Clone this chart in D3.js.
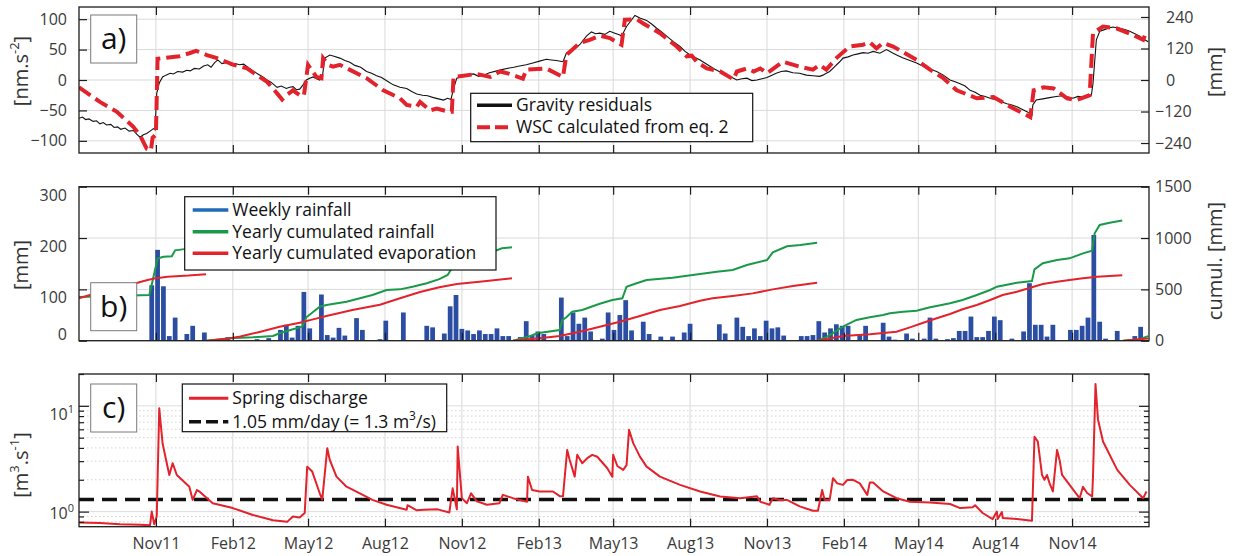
<!DOCTYPE html>
<html><head><meta charset="utf-8">
<script src="https://cdn.jsdelivr.net/npm/d3@7"></script>
<style>
body{margin:0;background:#fff}
svg{display:block}
text{font-family:"Open Sans",sans-serif}
</style></head>
<body>
<svg id="chart" width="1234" height="556"></svg>
<script>
// ---------------- DATA ----------------
const tickDates = ["2011-11-01","2012-02-01","2012-05-01","2012-08-01","2012-11-01","2013-02-01","2013-05-01","2013-08-01","2013-11-01","2014-02-01","2014-05-01","2014-08-01","2014-11-01"];
const tickLabels = ["Nov11","Feb12","May12","Aug12","Nov12","Feb13","May13","Aug13","Nov13","Feb14","May14","Aug14","Nov14"];
const gravTicks = [-100,-50,0,50,100];
const wscTicks = [-240,-120,0,120,240];
const rainTicks = [0,100,200,300];
const cumulTicks = [0,500,1000,1500];
const qMajorTicks = [1,10];
const qMinorTicks = [0.8,0.9,2,3,4,5,6,7,8,9,20];
const qThreshold = 1.3;

const gravity = [["2011-08-01",-63],["2011-08-05",-61],["2011-08-09",-65],["2011-08-13",-64],["2011-08-18",-68],["2011-08-22",-67],["2011-08-26",-72],["2011-08-30",-70],["2011-09-03",-74],["2011-09-08",-73],["2011-09-12",-78],["2011-09-16",-77],["2011-09-20",-81],["2011-09-25",-79],["2011-09-30",-84],["2011-10-05",-83],["2011-10-09",-89],["2011-10-13",-94],["2011-10-17",-90],["2011-10-21",-88],["2011-10-25",-84],["2011-10-29",-80],["2011-10-31",-82],["2011-11-01",-50],["2011-11-02",-22],["2011-11-05",-5],["2011-11-09",5],["2011-11-13",8],["2011-11-18",11],["2011-11-22",10],["2011-11-27",14],["2011-12-03",13],["2011-12-08",16],["2011-12-12",15],["2011-12-17",19],["2011-12-23",18],["2011-12-28",23],["2012-01-02",25],["2012-01-06",21],["2012-01-10",28],["2012-01-14",33],["2012-01-19",27],["2012-01-25",29],["2012-01-30",24],["2012-02-04",27],["2012-02-09",25],["2012-02-14",26],["2012-02-20",20],["2012-02-26",14],["2012-03-03",9],["2012-03-08",5],["2012-03-13",0],["2012-03-18",-4],["2012-03-25",-12],["2012-03-30",-10],["2012-04-05",-14],["2012-04-09",-12],["2012-04-13",-11],["2012-04-17",-16],["2012-04-21",-15],["2012-04-25",-8],["2012-04-29",0],["2012-05-03",3],["2012-05-07",5],["2012-05-11",2],["2012-05-15",0],["2012-05-18",4],["2012-05-21",36],["2012-05-27",41],["2012-06-01",39],["2012-06-08",36],["2012-06-14",32],["2012-06-20",29],["2012-06-26",24],["2012-07-03",21],["2012-07-10",14],["2012-07-16",11],["2012-07-22",7],["2012-07-28",4],["2012-08-04",-2],["2012-08-11",-8],["2012-08-19",-12],["2012-08-27",-14],["2012-09-02",-19],["2012-09-08",-23],["2012-09-15",-25],["2012-09-21",-26],["2012-09-28",-29],["2012-10-04",-31],["2012-10-10",-33],["2012-10-15",-30],["2012-10-19",-32],["2012-10-22",-14],["2012-10-26",3],["2012-11-03",7],["2012-11-09",9],["2012-11-15",10],["2012-11-21",6],["2012-11-27",8],["2012-12-04",12],["2012-12-13",15],["2012-12-19",17],["2012-12-25",19],["2013-01-02",21],["2013-01-09",23],["2013-01-17",25],["2013-01-25",28],["2013-02-02",31],["2013-02-10",34],["2013-02-16",33],["2013-02-22",32],["2013-03-02",30],["2013-03-06",44],["2013-03-14",50],["2013-03-22",58],["2013-03-30",72],["2013-04-05",79],["2013-04-10",76],["2013-04-15",77],["2013-04-21",75],["2013-04-27",80],["2013-05-03",77],["2013-05-09",74],["2013-05-11",72],["2013-05-17",88],["2013-05-22",97],["2013-05-27",106],["2013-06-02",102],["2013-06-10",98],["2013-06-16",92],["2013-06-22",85],["2013-06-28",79],["2013-07-04",72],["2013-07-12",63],["2013-07-20",55],["2013-07-26",47],["2013-08-01",41],["2013-08-07",37],["2013-08-13",33],["2013-08-21",26],["2013-08-29",19],["2013-09-06",13],["2013-09-14",8],["2013-09-20",4],["2013-09-26",0],["2013-10-02",2],["2013-10-08",3],["2013-10-14",-1],["2013-10-20",0],["2013-10-26",2],["2013-11-01",4],["2013-11-07",8],["2013-11-12",11],["2013-11-18",14],["2013-11-24",15],["2013-12-02",12],["2013-12-10",11],["2013-12-18",8],["2013-12-26",7],["2014-01-03",6],["2014-01-07",8],["2014-01-11",11],["2014-01-15",14],["2014-01-21",22],["2014-01-27",30],["2014-01-31",36],["2014-02-06",38],["2014-02-12",41],["2014-02-18",43],["2014-02-24",45],["2014-03-02",44],["2014-03-08",47],["2014-03-16",44],["2014-03-24",50],["2014-04-01",44],["2014-04-07",40],["2014-04-13",36],["2014-04-21",32],["2014-04-29",28],["2014-05-05",24],["2014-05-11",19],["2014-05-17",17],["2014-05-23",14],["2014-05-31",8],["2014-06-08",0],["2014-06-14",-3],["2014-06-20",-6],["2014-06-26",-10],["2014-07-02",-17],["2014-07-08",-20],["2014-07-14",-25],["2014-07-20",-27],["2014-07-26",-30],["2014-08-03",-33],["2014-08-09",-36],["2014-08-15",-39],["2014-08-21",-41],["2014-08-27",-44],["2014-09-02",-48],["2014-09-08",-52],["2014-09-14",-58],["2014-09-15",-41],["2014-09-19",-33],["2014-09-27",-31],["2014-10-05",-29],["2014-10-13",-27],["2014-10-21",-26],["2014-10-27",-28],["2014-11-02",-30],["2014-11-08",-27],["2014-11-14",-28],["2014-11-20",-25],["2014-11-24",-25],["2014-11-26",-6],["2014-11-30",66],["2014-12-04",80],["2014-12-08",82],["2014-12-12",84],["2014-12-16",86],["2014-12-20",87],["2014-12-24",86],["2014-12-28",85],["2015-01-03",83],["2015-01-09",80],["2015-01-15",76],["2015-01-21",72],["2015-01-26",67],["2015-01-31",63]];

const wsc = [["2011-08-01",-12],["2011-08-26",-36],["2011-09-15",-52],["2011-10-05",-77],["2011-10-13",-91],["2011-10-21",-113],["2011-10-26",-116],["2011-10-28",-95],["2011-11-01",-90],["2011-11-03",35],["2011-11-09",36],["2011-11-29",39],["2011-12-11",44],["2011-12-19",48],["2012-01-01",41],["2012-01-13",36],["2012-02-02",25],["2012-02-18",19],["2012-03-01",8],["2012-03-13",-3],["2012-03-25",-22],["2012-03-31",-32],["2012-04-05",-25],["2012-04-13",-17],["2012-04-21",-25],["2012-04-26",-26],["2012-05-01",25],["2012-05-11",5],["2012-05-17",3],["2012-05-19",36],["2012-05-25",25],["2012-05-31",22],["2012-06-08",25],["2012-07-10",3],["2012-07-30",-17],["2012-08-19",-30],["2012-08-27",-41],["2012-09-08",-44],["2012-09-12",-36],["2012-09-24",-50],["2012-10-02",-47],["2012-10-16",-52],["2012-10-20",-52],["2012-10-22",5],["2012-11-03",7],["2012-11-19",10],["2012-12-05",5],["2012-12-17",14],["2012-12-28",10],["2013-01-13",2],["2013-01-17",17],["2013-02-10",19],["2013-03-02",5],["2013-03-06",41],["2013-03-22",61],["2013-04-03",66],["2013-04-15",73],["2013-04-27",69],["2013-05-11",58],["2013-05-15",99],["2013-05-29",100],["2013-06-06",93],["2013-06-26",77],["2013-07-16",55],["2013-07-28",39],["2013-08-03",40],["2013-08-09",30],["2013-08-21",19],["2013-09-06",14],["2013-09-22",1],["2013-09-26",14],["2013-10-08",19],["2013-10-16",14],["2013-10-24",19],["2013-11-01",11],["2013-11-20",30],["2013-12-10",22],["2013-12-26",17],["2014-01-03",25],["2014-01-11",17],["2014-01-23",36],["2014-02-08",55],["2014-02-24",58],["2014-03-04",62],["2014-03-12",52],["2014-03-20",61],["2014-04-01",55],["2014-04-29",33],["2014-05-15",17],["2014-05-31",3],["2014-06-16",-17],["2014-07-10",-30],["2014-07-30",-28],["2014-08-19",-44],["2014-09-12",-61],["2014-09-16",-17],["2014-09-28",-12],["2014-10-10",-14],["2014-10-26",-30],["2014-11-06",-33],["2014-11-22",-25],["2014-11-26",77],["2014-12-08",88],["2014-12-24",85],["2015-01-13",74],["2015-01-25",66],["2015-01-29",80]];

const rainFirstWeek = "2011-10-27";
const weeklyRain = [108,177,106,9,45,0,13,29,0,16,0,0,0,7,0,0,0,0,3,0,5,0,21,31,6,29,95,24,0,90,11,6,25,10,0,44,21,0,0,3,39,0,0,55,0,0,0,29,26,0,14,67,89,23,20,13,20,13,13,24,9,9,0,7,38,11,18,13,0,0,84,9,55,33,45,18,0,4,55,21,50,79,20,0,37,13,0,8,0,8,0,16,33,0,0,0,0,32,14,0,45,27,9,24,9,39,24,26,10,0,0,9,9,11,38,16,24,32,29,29,0,11,29,0,0,35,8,2,0,14,4,0,4,45,4,0,3,5,19,19,47,7,7,19,47,40,0,4,0,18,112,31,31,8,31,0,0,21,21,29,45,206,37,4,0,19,0,0,9,27];

const cumRain2011 = [["2011-08-01",425],["2011-10-24",444],["2011-10-27",544],["2011-11-03",800],["2011-11-10",818],["2011-11-20",822],["2011-11-24",880],["2011-12-05",892],["2011-12-31",905]];
const cumRain2012 = [["2012-01-01",0],["2012-01-28",23],["2012-02-25",33],["2012-03-20",46],["2012-03-28",72],["2012-04-13",111],["2012-04-24",136],["2012-04-29",228],["2012-05-15",331],["2012-05-23",348],["2012-06-16",380],["2012-07-02",413],["2012-07-17",445],["2012-08-03",494],["2012-08-19",500],["2012-09-03",526],["2012-09-20",559],["2012-10-05",600],["2012-10-15",640],["2012-10-21",720],["2012-10-29",790],["2012-11-10",825],["2012-12-08",867],["2012-12-19",900],["2012-12-31",910]];
const cumRain2013 = [["2013-01-01",0],["2013-01-20",40],["2013-01-30",72],["2013-02-26",104],["2013-03-01",200],["2013-03-06",228],["2013-03-13",283],["2013-03-25",299],["2013-04-14",357],["2013-04-30",396],["2013-05-12",413],["2013-05-17",526],["2013-05-29",559],["2013-06-10",591],["2013-07-11",614],["2013-08-04",640],["2013-09-02",672],["2013-09-21",689],["2013-10-08",737],["2013-11-01",786],["2013-11-08",860],["2013-11-25",920],["2013-12-11",932],["2013-12-31",955]];
const cumRain2014 = [["2014-01-01",0],["2014-01-12",40],["2014-01-22",90],["2014-02-01",143],["2014-02-16",202],["2014-03-04",228],["2014-03-20",250],["2014-03-28",267],["2014-04-13",283],["2014-04-29",292],["2014-05-15",325],["2014-05-23",338],["2014-06-08",364],["2014-06-23",396],["2014-07-10",445],["2014-07-26",494],["2014-08-03",526],["2014-08-27",565],["2014-09-14",581],["2014-09-17",695],["2014-09-27",754],["2014-10-14",786],["2014-10-29",802],["2014-11-14",851],["2014-11-25",877],["2014-11-28",1046],["2014-12-04",1127],["2014-12-16",1149],["2014-12-31",1170]];
const cumRain2015 = [["2015-01-01",0],["2015-01-20",12],["2015-01-31",45]];

const cumEvap2011 = [["2011-08-01",413],["2011-08-14",445],["2011-10-10",565],["2011-10-22",591],["2011-10-30",606],["2011-11-15",622],["2011-12-10",634],["2011-12-31",648]];
const cumEvap2012 = [["2012-01-01",0],["2012-01-25",20],["2012-02-10",40],["2012-03-04",85],["2012-03-28",135],["2012-04-21",175],["2012-05-07",208],["2012-05-23",240],["2012-06-23",299],["2012-07-26",350],["2012-08-19",413],["2012-09-12",475],["2012-10-05",520],["2012-10-26",552],["2012-11-22",575],["2012-12-31",608]];
const cumEvap2013 = [["2013-01-01",0],["2013-02-02",23],["2013-02-26",46],["2013-03-22",88],["2013-04-15",136],["2013-05-09",185],["2013-06-02",240],["2013-06-26",299],["2013-07-20",338],["2013-08-13",390],["2013-08-28",413],["2013-09-21",435],["2013-10-15",461],["2013-11-08",500],["2013-12-02",533],["2013-12-31",565]];
const cumEvap2014 = [["2014-01-01",0],["2014-01-31",46],["2014-03-04",62],["2014-04-05",88],["2014-04-21",130],["2014-05-07",175],["2014-05-23",218],["2014-06-08",260],["2014-06-23",306],["2014-07-10",348],["2014-07-26",396],["2014-08-10",445],["2014-08-27",477],["2014-09-12",516],["2014-09-27",552],["2014-10-14",575],["2014-10-29",591],["2014-11-14",608],["2014-12-01",623],["2014-12-31",637]];
const cumEvap2015 = [["2015-01-01",0],["2015-01-31",22]];

const discharge = [["2011-08-01",0.79],["2011-08-26",0.78],["2011-09-19",0.76],["2011-10-13",0.75],["2011-10-25",0.745],["2011-10-27",1.0],["2011-10-30",0.76],["2011-11-02",0.9],["2011-11-05",9.5],["2011-11-09",4.4],["2011-11-17",2.22],["2011-11-21",2.87],["2011-11-26",2.22],["2011-12-11",1.72],["2011-12-15",1.29],["2011-12-20",1.6],["2011-12-23",1.55],["2012-01-08",1.2],["2012-02-01",1.08],["2012-02-25",0.93],["2012-03-20",0.83],["2012-04-06",0.80],["2012-04-13",0.9],["2012-04-21",0.88],["2012-04-27",0.97],["2012-04-30",2.66],["2012-05-06",2.39],["2012-05-15",1.49],["2012-05-18",1.3],["2012-05-24",3.98],["2012-05-27",3.08],["2012-06-04",2.14],["2012-06-16",1.72],["2012-07-02",1.49],["2012-07-17",1.29],["2012-08-03",1.16],["2012-08-27",1.04],["2012-08-28",1.15],["2012-09-08",1.03],["2012-09-17",1.04],["2012-10-03",1.05],["2012-10-17",0.98],["2012-10-21",1.66],["2012-10-26",1.05],["2012-10-27",4.12],["2012-11-01",1.34],["2012-11-07",1.2],["2012-11-12",1.49],["2012-11-19",1.25],["2012-12-01",1.16],["2012-12-16",1.2],["2012-12-20",1.44],["2013-01-01",1.34],["2013-01-18",1.24],["2013-01-19",2.14],["2013-01-24",1.6],["2013-02-02",1.55],["2013-02-18",1.55],["2013-02-26",1.4],["2013-03-02",1.4],["2013-03-07",3.83],["2013-03-10",3.08],["2013-03-16",2.14],["2013-03-19",3.44],["2013-03-25",2.87],["2013-03-31",3.2],["2013-04-06",3.44],["2013-04-12",3.3],["2013-04-24",2.57],["2013-04-30",2.14],["2013-05-01",3.44],["2013-05-06",2.7],["2013-05-13",2.48],["2013-05-17",2.75],["2013-05-20",5.93],["2013-05-25",4.44],["2013-06-02",3.31],["2013-06-10",2.66],["2013-06-26",2.14],["2013-07-20",1.79],["2013-08-13",1.55],["2013-09-06",1.39],["2013-09-30",1.34],["2013-10-20",1.4],["2013-10-24",1.24],["2013-11-04",1.16],["2013-11-08",1.34],["2013-11-16",1.29],["2013-11-25",1.29],["2013-12-10",1.12],["2013-12-26",1.02],["2014-01-01",1.02],["2014-01-06",1.6],["2014-01-09",1.29],["2014-01-15",1.29],["2014-01-19",2.07],["2014-01-24",1.85],["2014-01-31",1.79],["2014-02-05",1.99],["2014-02-12",2.0],["2014-02-20",1.85],["2014-03-01",1.44],["2014-03-04",1.88],["2014-03-08",1.88],["2014-03-20",1.55],["2014-04-05",1.34],["2014-04-21",1.24],["2014-05-15",1.22],["2014-06-08",1.18],["2014-06-20",1.08],["2014-07-05",1.1],["2014-07-08",1.15],["2014-07-17",0.97],["2014-07-29",0.85],["2014-08-03",1.0],["2014-08-04",0.85],["2014-08-09",0.99],["2014-08-10",0.87],["2014-08-27",0.85],["2014-09-14",0.82],["2014-09-17",5.1],["2014-09-21",4.6],["2014-09-26",2.22],["2014-09-29",2.0],["2014-10-02",2.22],["2014-10-05",1.86],["2014-10-09",1.55],["2014-10-14",3.83],["2014-10-17",3.08],["2014-10-20",2.22],["2014-10-29",1.79],["2014-11-07",1.44],["2014-11-10",1.34],["2014-11-14",1.72],["2014-11-19",1.5],["2014-11-25",1.39],["2014-11-26",2.14],["2014-11-29",16.1],["2014-12-02",7.4],["2014-12-08",4.6],["2014-12-25",2.48],["2015-01-09",1.79],["2015-01-25",1.34],["2015-01-29",1.55]];

// ---------------- DRAWING ----------------
const parse = d3.timeParse("%Y-%m-%d");
const svg = d3.select("#chart");
const defs = svg.append("defs");
const L = 79, R = 1149;
const P = {a:{top:7,bot:153}, b:{top:186.7,bot:340.7}, c:{top:374,bot:526.7}};
const x = d3.scaleTime().domain([parse("2011-08-01"), parse("2015-02-01")]).range([L, R]);
const tDates = tickDates.map(parse);

const yA = d3.scaleLinear().domain([-120,120]).range([P.a.bot, P.a.top]);
const yA2 = d3.scaleLinear().domain([-278,278]).range([P.a.bot, P.a.top]);
const yB = d3.scaleLinear().domain([0,300]).range([P.b.bot, P.b.top]);
const yB2 = d3.scaleLinear().domain([0,1500]).range([P.b.bot, P.b.top]);
const yC = d3.scaleLog().domain([0.72,20]).range([P.c.bot, P.c.top]);

const GRID = "#d9d9d9", FRAME = "#1c1c1c", TXT = "#3a3a3a";
const RED = "#e3232c", GREEN = "#1a9a48", BLUE = "#2b4ea3", BLUE_LEG = "#1f6bb5";

function clip(id, p){
  defs.append("clipPath").attr("id", id).append("rect")
    .attr("x", L).attr("y", p.top).attr("width", R-L).attr("height", p.bot-p.top);
}
clip("clipA", P.a); clip("clipB", P.b); clip("clipC", P.c);

function vgrid(p, dash){
  svg.append("g").selectAll("line").data(tDates).join("line")
    .attr("x1", d=>x(d)).attr("x2", d=>x(d)).attr("y1", p.top).attr("y2", p.bot)
    .attr("stroke", GRID).attr("stroke-width", 1).attr("stroke-dasharray", dash || null);
}
function hgrid(p, vals, scale, dash, color){
  svg.append("g").selectAll("line").data(vals).join("line")
    .attr("x1", L).attr("x2", R).attr("y1", d=>scale(d)).attr("y2", d=>scale(d))
    .attr("stroke", color || GRID).attr("stroke-width", 1).attr("stroke-dasharray", dash || null);
}
function frame(p){
  svg.append("rect").attr("x", L).attr("y", p.top).attr("width", R-L).attr("height", p.bot-p.top)
    .attr("fill","none").attr("stroke", FRAME).attr("stroke-width", 1.3);
}
function styleAxis(g, fs){
  g.select(".domain").remove();
  g.selectAll(".tick line").attr("stroke", FRAME).attr("stroke-width", 1.2);
  g.selectAll(".tick text").attr("fill", TXT).style("font-size", (fs||16)+"px").style("font-family","'Open Sans',sans-serif");
  return g;
}
function xTicks(p, withLabels){
  styleAxis(svg.append("g").attr("transform",`translate(0,${p.top})`)
    .call(d3.axisTop(x).tickValues(tDates).tickSize(-8).tickFormat("")));
  const g = svg.append("g").attr("transform",`translate(0,${p.bot})`)
    .call(d3.axisBottom(x).tickValues(tDates).tickSize(-8).tickPadding(11)
      .tickFormat(withLabels ? ((d,i)=>tickLabels[i]) : ""));
  styleAxis(g, 16);
}
function panelLabel(txt, bx, by){
  const g = svg.append("g");
  g.append("rect").attr("x", bx).attr("y", by).attr("width", 46).attr("height", 48)
    .attr("fill","#fff").attr("stroke","#7a7a7a").attr("stroke-width",1);
  g.append("text").attr("x", bx+23).attr("y", by+34).attr("text-anchor","middle")
    .style("font-size","30px").attr("fill","#111").text(txt);
}
function legend(bx, by, w, h, items){
  const g = svg.append("g");
  g.append("rect").attr("x",bx).attr("y",by).attr("width",w).attr("height",h)
    .attr("fill","#fff").attr("stroke","#111").attr("stroke-width",1.2);
  items.forEach(it=>{
    g.append("line").attr("x1", it.x1).attr("x2", it.x2).attr("y1", it.y).attr("y2", it.y)
      .attr("stroke", it.color).attr("stroke-width", it.w).attr("stroke-dasharray", it.dash || null);
    const t = g.append("text").attr("x", it.x2 + 4).attr("y", it.y + 6).style("font-size","17.5px").attr("fill","#111");
    it.parts.forEach(pt=>{
      const s = t.append("tspan").text(pt.t);
      if (pt.sup) s.attr("baseline-shift","super").style("font-size","12px");
    });
  });
}
function yLabel(xpos, ycen, parts){
  const t = svg.append("text").attr("x", xpos).attr("y", ycen).attr("text-anchor","middle")
    .attr("transform", `rotate(-90,${xpos},${ycen})`).style("font-size","20px").attr("fill","#333");
  parts.forEach(pt=>{
    const s = t.append("tspan").text(pt.t);
    if (pt.sup) s.attr("baseline-shift","super").style("font-size","13px");
  });
}
const lineOf = (ys) => d3.line().x(d=>x(parse(d[0]))).y(d=>ys(d[1]));

// ===== Panel a =====
vgrid(P.a);
hgrid(P.a, gravTicks, yA);
svg.append("path").datum(gravity).attr("clip-path","url(#clipA)")
  .attr("d", lineOf(yA)).attr("fill","none").attr("stroke","#111").attr("stroke-width",1.1);
svg.append("path").datum(wsc).attr("clip-path","url(#clipA)")
  .attr("d", lineOf(yA)).attr("fill","none").attr("stroke",RED).attr("stroke-width",4)
  .attr("stroke-dasharray","14,6");
legend(470.7, 93.3, 282, 48.4, [
  {x1:477, x2:512, y:105.3, color:"#111", w:3.5, parts:[{t:"Gravity residuals"}]},
  {x1:477, x2:512, y:127.2, color:RED, w:4, dash:"13,5", parts:[{t:"WSC calculated from eq. 2"}]}
]);
panelLabel("a)", 90.7, 15);
frame(P.a);
xTicks(P.a, false);
styleAxis(svg.append("g").attr("transform",`translate(${L},0)`)
  .call(d3.axisLeft(yA).tickValues(gravTicks).tickSize(-8).tickPadding(12)), 16);
const gA2 = styleAxis(svg.append("g").attr("transform",`translate(${R},0)`)
  .call(d3.axisRight(yA2).tickValues(wscTicks).tickSize(-8).tickPadding(17)), 16);
gA2.selectAll(".tick text").attr("dx", d => d < 0 ? -11 : 0);
yLabel(28, 71, [{t:"[nm.s"},{t:"-2",sup:true},{t:"]"}]);
yLabel(1222, 72, [{t:"[mm]"}]);

// ===== Panel b =====
vgrid(P.b);
hgrid(P.b, rainTicks, yB);
const wk = d3.timeDay.offset(parse(rainFirstWeek), 7).getTime() - parse(rainFirstWeek).getTime();
const barW = x(new Date(x.domain()[0].getTime() + wk)) - x(x.domain()[0]) - 1.1;
svg.append("g").attr("clip-path","url(#clipB)").selectAll("rect")
  .data(weeklyRain.map((v,i)=>({d:d3.timeDay.offset(parse(rainFirstWeek), 7*i), v})).filter(o=>o.v>0))
  .join("rect")
  .attr("x", o=>x(o.d)-barW/2).attr("width", barW)
  .attr("y", o=>yB(o.v)).attr("height", o=>yB(0)-yB(o.v))
  .attr("fill", BLUE);
[cumRain2011,cumRain2012,cumRain2013,cumRain2014,cumRain2015].forEach(s=>{
  svg.append("path").datum(s).attr("clip-path","url(#clipB)").attr("d", lineOf(yB2))
    .attr("fill","none").attr("stroke",GREEN).attr("stroke-width",2);
});
[cumEvap2011,cumEvap2012,cumEvap2013,cumEvap2014,cumEvap2015].forEach(s=>{
  svg.append("path").datum(s).attr("clip-path","url(#clipB)").attr("d", lineOf(yB2))
    .attr("fill","none").attr("stroke",RED).attr("stroke-width",2);
});
legend(184.7, 196.7, 311.3, 73.3, [
  {x1:192.7, x2:228.3, y:210, color:BLUE_LEG, w:3.5, parts:[{t:"Weekly rainfall"}]},
  {x1:192.7, x2:228.3, y:231.7, color:GREEN, w:3.5, parts:[{t:"Yearly cumulated rainfall"}]},
  {x1:192.7, x2:228.3, y:253.3, color:RED, w:3.5, parts:[{t:"Yearly cumulated evaporation"}]}
]);
panelLabel("b)", 90.7, 282.7);
frame(P.b);
xTicks(P.b, false);
const gB = styleAxis(svg.append("g").attr("transform",`translate(${L},0)`)
  .call(d3.axisLeft(yB).tickValues(rainTicks).tickSize(-8).tickPadding(12)), 16);
gB.selectAll(".tick text").attr("dy", d => d === 0 ? "-0.05em" : "0.85em");
styleAxis(svg.append("g").attr("transform",`translate(${R},0)`)
  .call(d3.axisRight(yB2).tickValues(cumulTicks).tickSize(-8).tickPadding(6).tickFormat(d3.format("d"))), 16);
yLabel(28, 265, [{t:"[mm]"}]);
yLabel(1222, 261, [{t:"cumul. [mm]"}]);

// ===== Panel c =====
vgrid(P.c);
hgrid(P.c, qMinorTicks.filter(v=>v<20), yC, "1.5,2.5", "#d4d4d4");
hgrid(P.c, qMajorTicks, yC, null, "#dedede");
svg.append("line").attr("x1",L).attr("x2",R).attr("y1",yC(qThreshold)).attr("y2",yC(qThreshold))
  .attr("stroke","#111").attr("stroke-width",3.5).attr("stroke-dasharray","15,8");
svg.append("path").datum(discharge).attr("clip-path","url(#clipC)")
  .attr("d", lineOf(yC)).attr("fill","none").attr("stroke",RED).attr("stroke-width",2)
  .attr("stroke-linejoin","round");
legend(182.3, 384, 264.4, 47.7, [
  {x1:189, x2:228.3, y:398.3, color:RED, w:3, parts:[{t:"Spring discharge"}]},
  {x1:189, x2:228.3, y:421.7, color:"#111", w:3.5, dash:"12,5", parts:[{t:"1.05 mm/day (= 1.3 m"},{t:"3",sup:true},{t:"/s)"}]}
]);
panelLabel("c)", 90.7, 384);
frame(P.c);
xTicks(P.c, true);
[[L,"Left"],[R,"Right"]].forEach(([px,side])=>{
  const ax = side==="Left" ? d3.axisLeft : d3.axisRight;
  styleAxis(svg.append("g").attr("transform",`translate(${px},0)`)
    .call(ax(yC).tickValues(qMajorTicks).tickSize(-10).tickFormat("")));
  styleAxis(svg.append("g").attr("transform",`translate(${px},0)`)
    .call(ax(yC).tickValues(qMinorTicks).tickSize(-5).tickFormat("")));
});
qMajorTicks.forEach(v=>{
  const t = svg.append("text").attr("x", 74).attr("y", yC(v) + (v===10 ? 14 : 7))
    .attr("text-anchor","end").style("font-size","16px").attr("fill",TXT);
  t.append("tspan").text("10");
  t.append("tspan").attr("baseline-shift","super").style("font-size","11px").text(String(Math.round(Math.log10(v))));
});
yLabel(28, 465, [{t:"[m"},{t:"3",sup:true},{t:".s"},{t:"-1",sup:true},{t:"]"}]);
</script>
</body></html>
